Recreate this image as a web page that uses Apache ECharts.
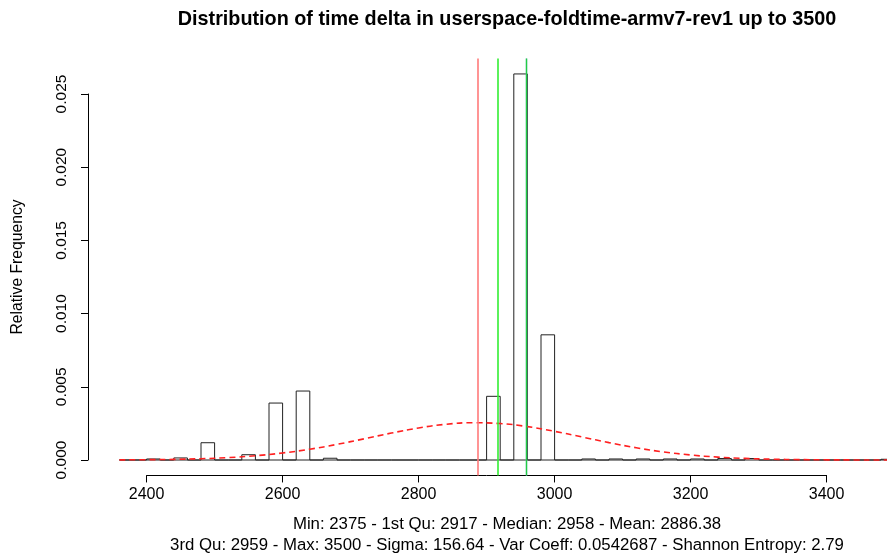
<!DOCTYPE html>
<html>
<head>
<meta charset="utf-8">
<script src="https://cdn.jsdelivr.net/npm/echarts@6/dist/echarts.min.js"></script>
<style>
html,body{margin:0;padding:0;background:#fff;}
#chart{width:887px;height:558px;}
</style>
</head>
<body>
<div id="chart"></div>
<script>
// ---- data ----
const binWidth = 20;
const binStarts = [2360,2380,2400,2420,2440,2460,2480,2500,2520,2540,2560,2580,2600,2620,2640,2660,2680,2700,2720,2740,2760,2780,2800,2820,2840,2860,2880,2900,2920,2940,2960,2980,3000,3020,3040,3060,3080,3100,3120,3140,3160,3180,3200,3220,3240,3260,3280,3300,3320,3340,3360,3380,3400,3420,3440,3460,3480];
const densities = [0,0,0.00007,0,0.00014,0,0.00118,0,0,0.00036,0,0.00389,0,0.00471,0,0.00012,0,0,0,0,0,0,0,0,0,0,0,0.00435,0,0.02637,0,0.00855,0,0,0.00007,0,0.00007,0,0.00007,0,0.00007,0,0.00007,0,0.0001,0,0.0001,0,0,0,0,0,0,0,0,0,0.00005];
const curveX = [2360,2400,2440,2480,2520,2560,2600,2640,2680,2720,2760,2800,2840,2880,2920,2960,3000,3040,3080,3120,3160,3200,3240,3280,3320,3360,3400,3440,3480,3520,3540];
const curveY = [0.000009,0.0000205,0.0000439,0.000088,0.000165,0.000291,0.000479,0.000739,0.001069,0.001449,0.001839,0.002188,0.002438,0.002545,0.002489,0.002281,0.001958,0.001575,0.001186,0.000837,0.000554,0.000343,0.000199,0.000108,0.0000552,0.0000264,0.0000118,0.0000049,0.0000019,0.0000007,0.0000004];
const statLines = {
  mean: 2886.38, q1: 2917, median: 2958, q3: 2959
};
const xTicks = {min: 2400, max: 3400, step: 200};
const yTicks = {min: 0, max: 0.025, step: 0.005};
const titleText = 'Distribution of time delta in userspace-foldtime-armv7-rev1 up to 3500';
const yTitle = 'Relative Frequency';
const subLine1 = 'Min: 2375 - 1st Qu: 2917 - Median: 2958 - Mean: 2886.38';
const subLine2 = '3rd Qu: 2959 - Max: 3500 - Sigma: 156.64 - Var Coeff: 0.0542687 - Shannon Entropy: 2.79';

// ---- layout ----
const FONT = '"Liberation Sans", Arial, Helvetica, sans-serif';
const W = 887;
const pxPerUnitX = 0.68, x2400px = 146.6;
const plotXmin = 2314.4, plotXmaxFull = 3545.6;
const plotLeft = x2400px + (plotXmin - 2400) * pxPerUnitX;
const plotRightFull = x2400px + (plotXmaxFull - 2400) * pxPerUnitX;
// visible part of the plot region ends at the picture edge
const plotXmaxVisible = 2400 + (W - x2400px) / pxPerUnitX;
const pxPerUnitY = 14640, y0px = 460;
const plotYmin = -0.001055, plotYmax = 0.027425;
const plotTop = y0px - plotYmax * pxPerUnitY;
const plotBottom = y0px - plotYmin * pxPerUnitY;

const histData = binStarts.map((s, i) => [s, s + binWidth, densities[i]]);
const curveData = curveX.map((x, i) => [x, curveY[i]]);

const chart = echarts.init(document.getElementById('chart'), null, {renderer: 'canvas'});
const option = {
  animation: false,
  backgroundColor: '#fff',
  grid: [
    {left: plotLeft, top: plotTop, right: 0, height: plotBottom - plotTop, containLabel: false},
    {left: x2400px, top: plotBottom - 1, width: (xTicks.max - xTicks.min) * pxPerUnitX, height: 1, containLabel: false},
    {left: 88, top: y0px - yTicks.max * pxPerUnitY, width: 1, height: yTicks.max * pxPerUnitY, containLabel: false}
  ],
  xAxis: [
    {type: 'value', gridIndex: 0, min: plotXmin, max: plotXmaxVisible, show: false},
    {type: 'value', gridIndex: 1, min: xTicks.min, max: xTicks.max, interval: xTicks.step, position: 'bottom',
      axisLine: {show: true, lineStyle: {color: '#000', width: 1}},
      axisTick: {show: true, length: 7, lineStyle: {color: '#000', width: 1}},
      axisLabel: {show: true, margin: 11, color: '#000', fontSize: 16, fontFamily: FONT,
        formatter: v => String(v)},
      splitLine: {show: false}},
    {type: 'value', gridIndex: 2, min: 0, max: 1, show: false}
  ],
  yAxis: [
    {type: 'value', gridIndex: 0, min: plotYmin, max: plotYmax, show: false},
    {type: 'value', gridIndex: 1, min: 0, max: 1, show: false},
    {type: 'value', gridIndex: 2, min: yTicks.min, max: yTicks.max, interval: yTicks.step, position: 'left',
      axisLine: {show: true, lineStyle: {color: '#000', width: 1}},
      axisTick: {show: true, length: 7, lineStyle: {color: '#000', width: 1}},
      axisLabel: {show: true, rotate: 90, margin: 18, color: '#000', fontSize: 15.5, fontFamily: FONT,
        formatter: v => v.toFixed(3)},
      splitLine: {show: false}}
  ],
  series: [
    {
      type: 'custom', xAxisIndex: 0, yAxisIndex: 0, data: histData, clip: false,
      renderItem: function (params, api) {
        const p0 = api.coord([api.value(0), api.value(2)]);
        const p1 = api.coord([api.value(1), 0]);
        return {
          type: 'rect',
          shape: {x: p0[0], y: p0[1], width: p1[0] - p0[0], height: p1[1] - p0[1]},
          style: {fill: 'none', stroke: '#222', lineWidth: 1}
        };
      },
      z: 2
    },
    {
      type: 'line', xAxisIndex: 0, yAxisIndex: 0, data: curveData, showSymbol: false, smooth: true,
      lineStyle: {color: '#ff2020', width: 1.6, type: [6, 4]},
      z: 3,
      markLine: {
        silent: true, symbol: ['none', 'none'], label: {show: false},
        data: [
          {xAxis: statLines.mean, lineStyle: {color: '#ff7a7a', width: 1.6, type: 'solid'}},
          {xAxis: statLines.q1, lineStyle: {color: '#33ee33', width: 1.6, type: 'solid'}},
          {xAxis: statLines.median, lineStyle: {color: '#9bb6f0', width: 1.4, type: 'solid'}},
          {xAxis: statLines.q3, lineStyle: {color: '#22cc44', width: 1.4, type: 'solid'}}
        ]
      }
    }
  ],
  graphic: [
    {type: 'text', x: (plotLeft + plotRightFull) / 2, y: 20,
      style: {text: titleText, font: 'bold 19.8px ' + FONT, fill: '#000', textAlign: 'center', align: 'center', textVerticalAlign: 'middle', verticalAlign: 'middle'}},
    {type: 'text', x: 18, y: (plotTop + plotBottom) / 2, rotation: Math.PI / 2,
      style: {text: yTitle, font: '15.7px ' + FONT, fill: '#000', textAlign: 'center', align: 'center', textVerticalAlign: 'middle', verticalAlign: 'middle'}},
    {type: 'text', x: (plotLeft + plotRightFull) / 2, y: 524,
      style: {text: subLine1, font: '16.8px ' + FONT, fill: '#000', textAlign: 'center', align: 'center', textVerticalAlign: 'middle', verticalAlign: 'middle'}},
    {type: 'text', x: (plotLeft + plotRightFull) / 2, y: 545,
      style: {text: subLine2, font: '16.8px ' + FONT, fill: '#000', textAlign: 'center', align: 'center', textVerticalAlign: 'middle', verticalAlign: 'middle'}}
  ]
};
chart.setOption(option);
</script>
</body>
</html>
